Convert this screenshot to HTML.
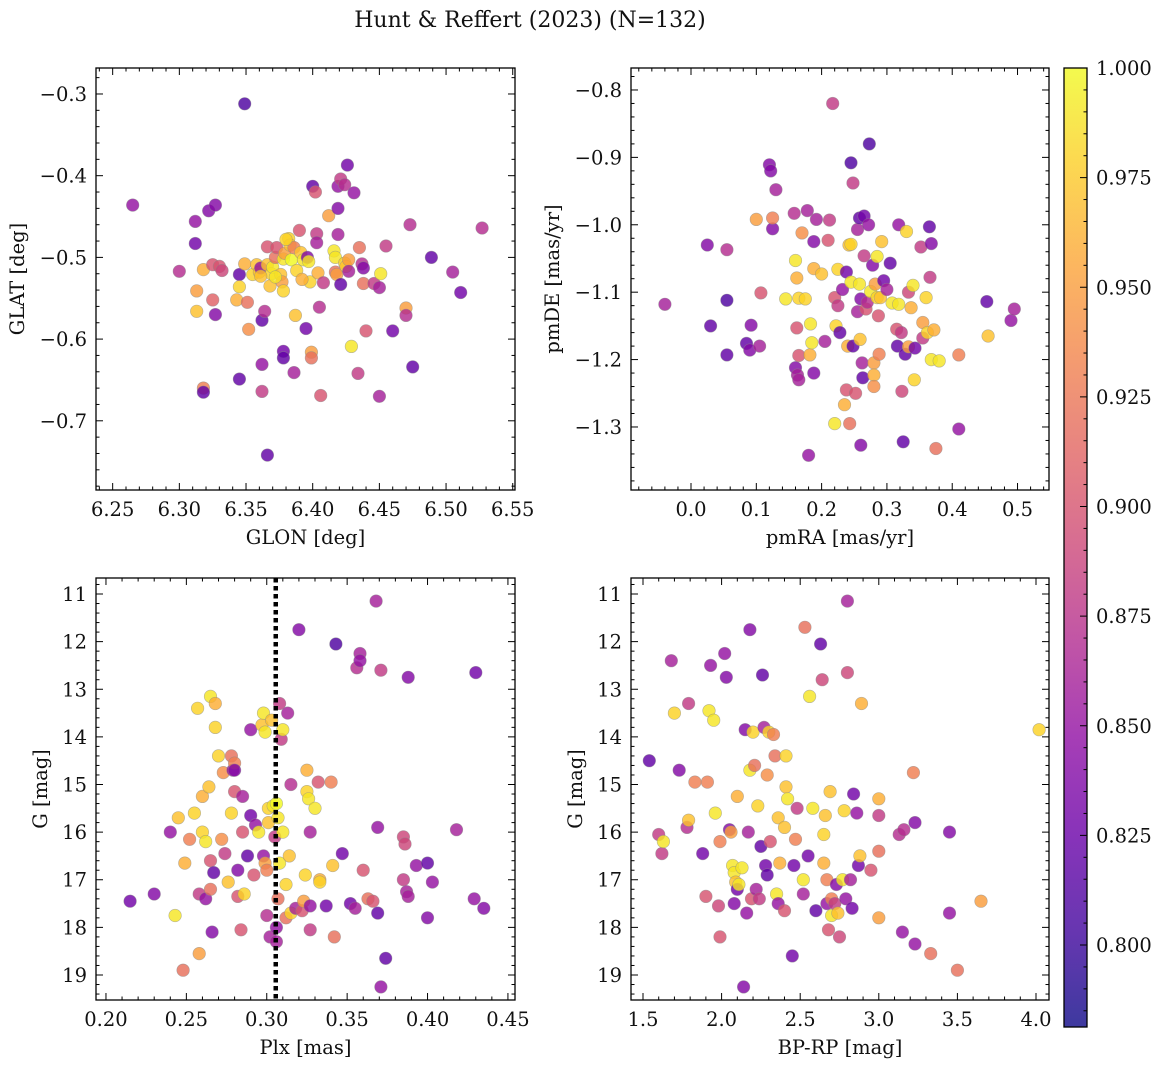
<!DOCTYPE html>
<html><head><meta charset="utf-8"><title>Hunt & Reffert (2023)</title>
<style>
html,body{margin:0;padding:0;background:#fff;}
svg{display:block;font-family:"DejaVu Serif","Liberation Serif",serif;}
</style></head>
<body>
<svg id="fig" width="1161" height="1067" viewBox="0 0 1161 1067" xmlns="http://www.w3.org/2000/svg">
<defs>
<linearGradient id="plasma" x1="0" y1="1" x2="0" y2="0">
<stop offset="0" stop-color="#0d0887"/><stop offset="0.1" stop-color="#41049d"/><stop offset="0.2" stop-color="#6a00a8"/><stop offset="0.3" stop-color="#8f0da4"/><stop offset="0.4" stop-color="#b12a90"/><stop offset="0.5" stop-color="#cc4778"/><stop offset="0.6" stop-color="#e16462"/><stop offset="0.7" stop-color="#f2844b"/><stop offset="0.8" stop-color="#fca636"/><stop offset="0.9" stop-color="#fcce25"/><stop offset="1" stop-color="#f0f921"/>
</linearGradient>
</defs>
<text x="530" y="27" text-anchor="middle" font-size="22" fill="#111">Hunt &amp; Reffert (2023) (N=132)</text>
<g id="panels"></g>
<g id="cbar"></g>
</svg>
<script>
// ---- data ----
const glon = [6.265,6.312,6.322,6.327,6.312,6.300,6.313,6.318,6.313,6.325,6.327,6.325,6.330,6.332,6.318,6.318,6.345,6.349,6.345,6.345,6.343,6.349,6.351,6.352,6.355,6.358,6.360,6.361,6.362,6.362,6.362,6.364,6.366,6.366,6.366,6.368,6.369,6.370,6.372,6.373,6.376,6.377,6.378,6.378,6.378,6.378,6.379,6.382,6.383,6.384,6.386,6.388,6.387,6.386,6.390,6.391,6.393,6.395,6.396,6.397,6.398,6.399,6.399,6.400,6.402,6.403,6.403,6.404,6.406,6.405,6.408,6.412,6.416,6.417,6.417,6.418,6.419,6.419,6.419,6.421,6.421,6.424,6.424,6.425,6.426,6.427,6.427,6.429,6.431,6.434,6.435,6.437,6.438,6.438,6.440,6.446,6.450,6.450,6.451,6.455,6.460,6.470,6.470,6.473,6.475,6.489,6.505,6.511,6.527,6.361,6.372,6.380,6.392];
const glat = [-0.436,-0.456,-0.443,-0.436,-0.483,-0.517,-0.541,-0.515,-0.566,-0.552,-0.570,-0.509,-0.511,-0.516,-0.660,-0.665,-0.649,-0.312,-0.521,-0.536,-0.552,-0.508,-0.555,-0.588,-0.521,-0.509,-0.518,-0.513,-0.577,-0.631,-0.664,-0.566,-0.742,-0.487,-0.509,-0.535,-0.520,-0.512,-0.500,-0.488,-0.521,-0.530,-0.541,-0.502,-0.615,-0.623,-0.495,-0.477,-0.485,-0.503,-0.488,-0.516,-0.571,-0.641,-0.467,-0.494,-0.503,-0.587,-0.500,-0.505,-0.530,-0.616,-0.623,-0.413,-0.420,-0.471,-0.482,-0.519,-0.669,-0.561,-0.531,-0.449,-0.492,-0.500,-0.518,-0.521,-0.440,-0.413,-0.472,-0.404,-0.533,-0.411,-0.507,-0.511,-0.387,-0.503,-0.517,-0.609,-0.421,-0.642,-0.488,-0.508,-0.532,-0.513,-0.590,-0.532,-0.670,-0.537,-0.520,-0.486,-0.590,-0.562,-0.571,-0.460,-0.634,-0.500,-0.518,-0.543,-0.464,-0.523,-0.524,-0.478,-0.527];
const prob1 = [0.85,0.85,0.84,0.84,0.83,0.87,0.95,0.96,0.97,0.91,0.84,0.90,0.90,0.89,0.93,0.82,0.82,0.81,0.82,0.98,0.96,0.96,0.92,0.94,0.98,0.97,0.97,0.85,0.82,0.85,0.88,0.87,0.82,0.90,0.97,0.97,0.98,0.99,0.92,0.90,0.97,0.95,0.98,0.99,0.83,0.82,0.95,0.98,0.97,1.0,0.93,0.98,0.97,0.86,0.90,0.97,0.99,0.83,0.84,0.99,0.98,0.95,0.92,0.82,0.90,0.88,0.86,0.96,0.90,0.87,0.88,0.95,0.99,0.99,0.92,0.95,0.84,0.85,0.86,0.88,0.82,0.87,0.98,0.97,0.83,0.95,0.86,0.99,0.85,0.88,0.92,0.87,0.92,0.84,0.90,0.88,0.86,0.86,0.99,0.88,0.83,0.95,0.87,0.87,0.82,0.82,0.86,0.83,0.87,0.97,0.99,0.98,0.96];

const pmra = [-0.04,0.025,0.030,0.055,0.055,0.055,0.085,0.090,0.092,0.100,0.105,0.107,0.120,0.122,0.125,0.125,0.130,0.145,0.158,0.160,0.160,0.162,0.162,0.163,0.165,0.165,0.165,0.170,0.175,0.178,0.180,0.182,0.183,0.185,0.188,0.188,0.188,0.192,0.200,0.205,0.210,0.212,0.217,0.220,0.220,0.222,0.225,0.225,0.228,0.232,0.235,0.238,0.238,0.240,0.242,0.243,0.245,0.245,0.245,0.248,0.248,0.252,0.255,0.255,0.258,0.258,0.259,0.260,0.260,0.262,0.263,0.265,0.265,0.268,0.270,0.272,0.273,0.275,0.278,0.280,0.280,0.280,0.282,0.285,0.285,0.287,0.288,0.290,0.292,0.295,0.300,0.305,0.308,0.315,0.316,0.318,0.318,0.322,0.325,0.323,0.328,0.330,0.333,0.333,0.337,0.340,0.342,0.343,0.352,0.355,0.355,0.360,0.362,0.365,0.366,0.368,0.368,0.372,0.375,0.380,0.410,0.410,0.453,0.455,0.490,0.495];
const pmde = [-1.118,-1.030,-1.150,-1.112,-1.193,-1.037,-1.176,-1.186,-1.149,-0.992,-1.180,-1.101,-0.911,-0.920,-1.006,-0.990,-0.948,-1.110,-0.983,-1.212,-1.053,-1.079,-1.153,-1.223,-1.194,-1.230,-1.109,-1.012,-1.110,-0.979,-1.342,-1.193,-1.147,-1.175,-1.065,-1.025,-1.220,-0.992,-1.073,-1.173,-1.023,-0.993,-0.820,-1.108,-1.295,-1.150,-1.066,-1.120,-1.160,-1.096,-1.267,-1.070,-1.245,-1.180,-1.030,-1.295,-1.085,-0.908,-1.029,-1.180,-0.938,-1.250,-1.007,-1.129,-0.990,-1.088,-1.170,-1.327,-1.110,-1.205,-1.227,-0.987,-1.046,-1.125,-1.115,-1.000,-0.880,-1.099,-1.060,-1.205,-1.223,-1.240,-1.088,-1.108,-1.047,-1.135,-1.192,-1.108,-1.025,-1.083,-1.096,-1.057,-1.116,-1.155,-1.180,-1.118,-1.000,-1.160,-1.322,-1.247,-1.192,-1.010,-1.100,-1.181,-1.123,-1.090,-1.230,-1.183,-1.033,-1.168,-1.145,-1.108,-1.160,-1.003,-1.078,-1.028,-1.200,-1.156,-1.332,-1.202,-1.193,-1.303,-1.114,-1.165,-1.142,-1.125];
const prob2 = [0.86,0.84,0.82,0.81,0.82,0.87,0.82,0.84,0.84,0.95,0.86,0.90,0.84,0.84,0.84,0.93,0.86,0.99,0.87,0.84,0.99,0.96,0.90,0.86,0.90,0.86,0.98,0.94,0.98,0.86,0.85,0.96,0.99,0.99,0.96,0.84,0.84,0.86,0.97,0.86,0.90,0.88,0.88,0.90,0.99,0.98,0.98,0.88,0.82,0.85,0.96,0.83,0.90,0.96,0.97,0.92,0.99,0.81,0.98,0.82,0.88,0.90,0.86,0.86,0.82,0.99,0.97,0.84,0.84,0.86,0.82,0.83,0.88,0.90,0.87,0.85,0.81,0.99,0.84,0.95,0.96,0.94,0.95,0.98,0.99,0.90,0.93,0.97,0.97,0.83,0.86,0.82,0.99,0.90,0.82,0.99,0.85,0.88,0.82,0.89,0.82,0.98,0.89,0.95,0.96,0.99,0.98,0.83,0.88,0.88,0.95,0.98,0.98,0.82,0.88,0.84,0.99,0.96,0.92,0.99,0.93,0.85,0.82,0.97,0.85,0.86];

const plx = [0.215,0.230,0.240,0.243,0.245,0.248,0.249,0.252,0.255,0.257,0.258,0.258,0.260,0.260,0.262,0.262,0.264,0.265,0.265,0.265,0.266,0.267,0.268,0.268,0.270,0.272,0.273,0.274,0.276,0.278,0.278,0.279,0.280,0.280,0.280,0.282,0.282,0.284,0.285,0.285,0.286,0.288,0.290,0.290,0.292,0.293,0.295,0.297,0.298,0.298,0.299,0.299,0.300,0.300,0.301,0.301,0.302,0.303,0.304,0.305,0.306,0.306,0.306,0.307,0.307,0.308,0.308,0.309,0.310,0.310,0.312,0.312,0.313,0.314,0.315,0.315,0.318,0.320,0.322,0.323,0.324,0.325,0.325,0.326,0.327,0.327,0.327,0.330,0.332,0.333,0.333,0.337,0.340,0.341,0.342,0.343,0.347,0.352,0.355,0.356,0.358,0.358,0.360,0.363,0.366,0.368,0.369,0.369,0.371,0.371,0.374,0.385,0.385,0.386,0.387,0.388,0.388,0.393,0.400,0.400,0.403,0.418,0.429,0.430,0.435];
const gmag3 = [17.45,17.30,16.00,17.75,15.70,18.90,16.65,16.15,15.60,13.40,18.55,17.30,16.00,15.25,16.20,17.40,15.05,13.15,16.60,17.20,18.10,16.85,13.80,13.30,14.40,16.15,14.75,16.45,17.05,15.60,14.40,14.70,14.55,14.70,15.15,17.35,16.80,18.05,16.00,15.25,17.30,16.50,15.65,13.85,16.90,15.85,16.00,13.75,16.50,13.50,13.90,16.65,16.80,17.75,15.50,15.80,18.20,13.65,15.45,16.10,15.40,18.00,18.30,15.70,17.40,16.65,13.30,14.05,13.85,16.00,17.10,17.80,13.50,16.50,15.00,17.70,17.60,11.75,17.65,17.45,16.90,15.15,14.70,15.30,16.00,17.55,18.05,15.50,14.95,17.00,17.05,17.55,14.95,16.70,18.20,12.05,16.45,17.50,17.60,12.55,12.25,12.40,16.80,17.40,17.45,11.15,15.90,17.70,12.60,19.25,18.65,16.10,17.00,16.25,17.25,12.75,17.35,16.70,16.65,17.80,17.05,15.95,17.40,12.65,17.60];
const prob3 = [0.83,0.84,0.85,0.99,0.97,0.92,0.96,0.93,0.98,0.98,0.95,0.88,0.98,0.96,0.99,0.85,0.97,0.99,0.90,0.92,0.84,0.82,0.98,0.96,0.98,0.94,0.94,0.88,0.97,0.98,0.92,0.85,0.93,0.84,0.90,0.90,0.84,0.90,0.90,0.86,0.98,0.82,0.83,0.85,0.90,0.85,0.99,0.97,0.85,0.99,0.99,0.95,0.93,0.87,0.98,0.97,0.86,0.97,0.99,0.88,1.0,0.85,0.86,0.99,0.92,0.99,0.88,0.88,0.99,0.99,0.98,0.92,0.86,0.97,0.87,0.98,0.86,0.84,0.90,0.95,0.98,0.98,0.96,0.99,0.86,0.85,0.88,0.99,0.90,0.96,0.98,0.83,0.93,0.97,0.92,0.81,0.83,0.83,0.86,0.87,0.86,0.85,0.90,0.92,0.90,0.86,0.85,0.82,0.88,0.85,0.82,0.89,0.88,0.89,0.86,0.84,0.86,0.85,0.82,0.84,0.85,0.86,0.85,0.83,0.84];
const plxLine = [0.3056];

const bprp = [1.54,1.60,1.62,1.63,1.68,1.70,1.73,1.78,1.79,1.79,1.83,1.88,1.90,1.91,1.92,1.93,1.95,1.96,1.98,1.99,1.99,2.02,2.03,2.05,2.06,2.07,2.08,2.08,2.09,2.10,2.10,2.11,2.13,2.14,2.15,2.16,2.18,2.18,2.17,2.19,2.20,2.21,2.22,2.23,2.24,2.25,2.26,2.27,2.28,2.30,2.29,2.29,2.31,2.33,2.34,2.35,2.36,2.36,2.37,2.40,2.40,2.41,2.41,2.42,2.45,2.46,2.47,2.48,2.52,2.52,2.53,2.55,2.56,2.58,2.60,2.63,2.64,2.65,2.65,2.66,2.67,2.67,2.68,2.69,2.70,2.70,2.72,2.73,2.74,2.75,2.77,2.78,2.79,2.80,2.80,2.82,2.83,2.84,2.86,2.87,2.88,2.89,3.00,3.00,3.00,3.00,3.13,3.15,3.16,3.22,3.23,3.23,3.33,3.45,3.45,3.50,3.65,4.02,2.95];
const gmag4 = [14.50,16.05,16.45,16.20,12.40,13.50,14.70,15.90,15.75,13.30,14.95,16.45,17.35,14.95,13.45,12.50,13.65,15.60,17.55,18.20,16.20,12.25,12.75,15.95,16.00,16.70,17.50,16.85,17.05,17.20,15.25,17.10,16.75,19.25,13.85,17.70,11.75,14.70,16.00,17.40,13.90,14.60,17.20,15.45,17.40,16.30,12.70,13.80,16.70,13.90,16.90,14.80,16.20,13.95,14.40,17.30,15.70,17.50,16.65,17.65,15.90,14.40,15.05,15.30,18.60,16.70,16.15,15.50,17.00,17.30,11.70,16.50,13.15,15.50,17.65,12.05,12.80,16.05,16.65,15.65,17.00,17.50,18.05,15.15,17.40,17.75,17.50,17.10,17.70,18.20,17.00,15.55,17.40,12.65,11.15,17.00,17.60,15.20,15.60,16.70,16.50,13.30,16.40,15.30,15.65,17.80,16.05,18.10,15.95,14.75,15.80,18.35,18.55,16.00,17.70,18.90,17.45,13.85,16.80];
const prob4 = [0.82,0.88,0.88,0.99,0.86,0.98,0.84,0.87,0.97,0.88,0.93,0.83,0.90,0.93,0.99,0.85,0.99,0.99,0.89,0.90,0.93,0.85,0.84,0.84,0.95,0.99,0.84,0.99,0.97,0.83,0.96,0.99,0.99,0.84,0.84,0.85,0.84,0.99,0.86,0.90,0.98,0.92,0.86,0.98,0.88,0.82,0.82,0.86,0.83,0.98,0.82,0.94,0.90,0.93,0.92,0.99,0.97,0.85,0.96,0.90,0.97,0.98,0.97,0.99,0.83,0.83,0.93,0.88,0.99,0.86,0.92,0.83,0.99,0.99,0.82,0.82,0.89,0.98,0.96,0.97,0.93,0.85,0.90,0.97,0.93,0.99,0.88,0.84,0.97,0.89,0.99,0.98,0.85,0.89,0.86,0.86,0.83,0.83,0.85,0.83,0.97,0.96,0.92,0.96,0.88,0.95,0.87,0.85,0.87,0.93,0.84,0.85,0.92,0.84,0.85,0.92,0.95,0.98,0.90];

const cbTicks = ["0.800","0.825","0.850","0.875","0.900","0.925","0.950","0.975","1.000"];
const xt1 = ["6.25","6.30","6.35","6.40","6.45","6.50","6.55"];
const yt1 = ["−0.3","−0.4","−0.5","−0.6","−0.7"];
const xt2 = ["0.0","0.1","0.2","0.3","0.4","0.5"];
const yt2 = ["−0.8","−0.9","−1.0","−1.1","−1.2","−1.3"];
const xt3 = ["0.20","0.25","0.30","0.35","0.40","0.45"];
const ytG = ["11","12","13","14","15","16","17","18","19"];
const xt4 = ["1.5","2.0","2.5","3.0","3.5","4.0"];

// ---- rendering ----
const NS = "http://www.w3.org/2000/svg";
const FS = 19.5;
const VMIN = 0.7813, VMAX = 1.0;
const stops = ["#0d0887","#41049d","#6a00a8","#8f0da4","#b12a90","#cc4778","#e16462","#f2844b","#fca636","#fcce25","#f0f921"];
function hex(h){return [1,3,5].map(i=>parseInt(h.substr(i,2),16));}
function plasma(v){
  let t=(v-VMIN)/(VMAX-VMIN); t=Math.max(0,Math.min(1,t));
  const f=t*10, i=Math.min(9,Math.floor(f)), r=f-i;
  const a=hex(stops[i]), b=hex(stops[i+1]);
  return "rgb("+a.map((c,k)=>Math.round(c+(b[k]-c)*r)).join(",")+")";
}
function mk(tag, attrs, parent){
  const e=document.createElementNS(NS,tag);
  for(const k in attrs) e.setAttribute(k,attrs[k]);
  parent.appendChild(e); return e;
}
const root=document.getElementById("panels");

function panel(cfg){
  const g=mk("g",{},root);
  
  
  const {x0,x1,y0,y1,xd,yd}=cfg;
  const sx=v=>x0+(v-xd[0])/(xd[1]-xd[0])*(x1-x0);
  const sy=v=>y0+(v-yd[0])/(yd[1]-yd[0])*(y1-y0);
  const pg=mk("g",{},g);
  
  
  for(let i=0;i<cfg.xs.length;i++){
    const c=mk("circle",{cx:sx(cfg.xs[i]).toFixed(1),cy:sy(cfg.ys[i]).toFixed(1),r:6.3,fill:plasma(cfg.cs[i]),"fill-opacity":0.82,stroke:"#8a8a8a","stroke-opacity":0.6,"stroke-width":0.6},pg);
    
    
  }
  if(cfg.vline){
    const l=mk("line",{x1:sx(cfg.vline[0]),x2:sx(cfg.vline[0]),y1:y0,y2:y1,stroke:"#000","stroke-width":4.5,"stroke-dasharray":"4.5 3.5"},g);
    
    
  }
  const tg=mk("g",{stroke:"#000","stroke-width":1},g);
  const eps=1e-9;
  const lo=Math.min(xd[0],xd[1]), hi=Math.max(xd[0],xd[1]);
  for(let v=Math.ceil(lo/cfg.xmin-eps)*cfg.xmin; v<=hi+eps; v+=cfg.xmin){
    const isMaj=Math.abs(v/cfg.xmaj-Math.round(v/cfg.xmaj))<1e-4;
    const L=isMaj?7:3.5, X=sx(v);
    mk("line",{x1:X,x2:X,y1:y1,y2:y1-L},tg); mk("line",{x1:X,x2:X,y1:y0,y2:y0+L},tg);
  }
  const ylo=Math.min(yd[0],yd[1]), yhi=Math.max(yd[0],yd[1]);
  for(let v=Math.ceil(ylo/cfg.ymin-eps)*cfg.ymin; v<=yhi+eps; v+=cfg.ymin){
    const isMaj=Math.abs(v/cfg.ymaj-Math.round(v/cfg.ymaj))<1e-4;
    const L=isMaj?7:3.5, Y=sy(v);
    mk("line",{x1:x0,x2:x0+L,y1:Y,y2:Y},tg); mk("line",{x1:x1,x2:x1-L,y1:Y,y2:Y},tg);
  }
  const fr=mk("rect",{x:x0,y:y0,width:x1-x0,height:y1-y0,fill:"none",stroke:"#000","stroke-width":1.3},g);
  
  
  cfg.xl.forEach(s=>{
    const v=parseFloat(s.replace("−","-"));
    const t=mk("text",{x:sx(v),y:y1+26,"text-anchor":"middle","font-size":FS,fill:"#111"},g);
    t.textContent=s;
    
    
  });
  cfg.yl.forEach(s=>{
    const v=parseFloat(s.replace("−","-"));
    const t=mk("text",{x:x0-9,y:sy(v)+7,"text-anchor":"end","font-size":FS,fill:"#111"},g);
    t.textContent=s;
    
    
  });
  const xt=mk("text",{x:(x0+x1)/2,y:y1+54,"text-anchor":"middle","font-size":FS,fill:"#111"},g);
  xt.textContent=cfg.xlabel;
  
  
  const ymid=(y0+y1)/2;
  const yt=mk("text",{x:cfg.ylx,y:ymid,"text-anchor":"middle","font-size":FS,fill:"#111",transform:"rotate(-90 "+cfg.ylx+" "+ymid+")"},g);
  yt.textContent=cfg.ylabel;
  
  
}

panel({name:"glon-glat-panel",x0:96,x1:515,y0:68,y1:490,xd:[6.2375,6.5517],yd:[-0.2682,-0.7847],xs:glon,ys:glat,cs:prob1,xmaj:0.05,xmin:0.01,ymaj:0.1,ymin:0.02,xl:xt1,yl:yt1,xlabel:"GLON [deg]",ylabel:"GLAT [deg]",ylx:24});
panel({name:"pm-panel",x0:631,x1:1049,y0:68,y1:490,xd:[-0.0919,0.5482],yd:[-0.7674,-1.3935],xs:pmra,ys:pmde,cs:prob2,xmaj:0.1,xmin:0.02,ymaj:0.1,ymin:0.02,xl:xt2,yl:yt2,xlabel:"pmRA [mas/yr]",ylabel:"pmDE [mas/yr]",ylx:559});
panel({name:"plx-g-panel",x0:96,x1:515,y0:578,y1:1000,xd:[0.1938,0.4544],yd:[10.664,19.525],xs:plx,ys:gmag3,cs:prob3,xmaj:0.05,xmin:0.01,ymaj:1,ymin:0.2,xl:xt3,yl:ytG,xlabel:"Plx [mas]",ylabel:"G [mag]",ylx:47,vline:plxLine});
panel({name:"cmd-panel",x0:631,x1:1049,y0:578,y1:1000,xd:[1.4237,4.0827],yd:[10.664,19.525],xs:bprp,ys:gmag4,cs:prob4,xmaj:0.5,xmin:0.1,ymaj:1,ymin:0.2,xl:xt4,yl:ytG,xlabel:"BP-RP [mag]",ylabel:"G [mag]",ylx:582});

(function(){
  const cb=document.getElementById("cbar");
  const X0=1064,X1=1087,Y0=68,Y1=1027;
  const sy=v=>Y1-(v-VMIN)/(VMAX-VMIN)*(Y1-Y0);
  mk("rect",{x:X0,y:Y0,width:X1-X0,height:Y1-Y0,fill:"url(#plasma)","fill-opacity":0.8},cb);
  const tg=mk("g",{stroke:"#000","stroke-width":1},cb);
  for(let k=Math.ceil(VMIN/0.005);k*0.005<=VMAX+1e-9;k++){
    const v=k*0.005, maj=(k%5===0), Y=sy(v);
    mk("line",{x1:X1,x2:X1-(maj?7:3.5),y1:Y,y2:Y},tg);
  }
  mk("rect",{x:X0,y:Y0,width:X1-X0,height:Y1-Y0,fill:"none",stroke:"#000","stroke-width":1.3},cb);
  cbTicks.forEach(s=>{
    const t=mk("text",{x:X1+9,y:sy(parseFloat(s))+7,"font-size":FS,fill:"#111"},cb);
    t.textContent=s;
    
    
  });
})();
</script>
</body></html>
